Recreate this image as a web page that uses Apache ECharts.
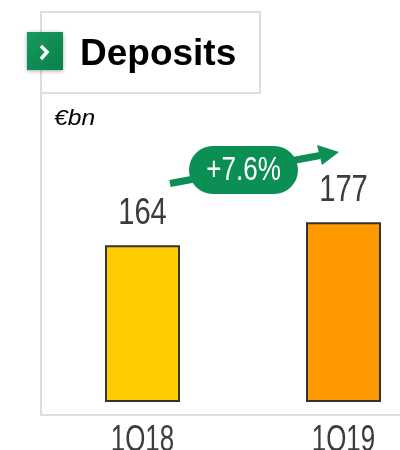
<!DOCTYPE html>
<html>
<head>
<meta charset="utf-8">
<style>
  html, body { margin: 0; padding: 0; background: #fff; }
  #chart { width: 400px; height: 450px; overflow: hidden; }
</style>
<script src="https://cdn.jsdelivr.net/npm/echarts@6/dist/echarts.min.js"></script>
</head>
<body>
<div id="chart"></div>
<script>
const categories = ['1Q18', '1Q19'];
const deposits = [164, 177];
const barColors = ['#ffcc00', '#ff9900'];
const titleText = 'Deposits';
const unitText = '€bn';
const growthText = '+7.6%';

const GREEN = '#0b8f55';
const FRAME = '#dedede';
const AXIS_MIN = 76;
const sans = '"Liberation Sans", Arial, sans-serif';

const myChart = echarts.init(document.getElementById('chart'), null, { renderer: 'canvas' });

// 没有窄体字，用 scaleX 压窄文字
const narrowText = (text, x, y, scaleX) => ({
  type: 'text',
  x: x,
  y: y,
  scaleX: scaleX,
  style: { text: text, fontFamily: sans, fontSize: 36, fill: '#3c3c3c', align: 'center', verticalAlign: 'middle' }
});

const option = {
  animation: false,
  backgroundColor: '#fff',
  // 坐标轴从 76 起，柱高比例与原图一致
  grid: { left: 42, top: 79, width: 402, height: 322, outerBoundsMode: 'none' },
  xAxis: {
    type: 'category',
    data: categories,
    axisLine: { show: false },
    axisTick: { show: false },
    axisLabel: { show: false }
  },
  yAxis: { type: 'value', min: AXIS_MIN, max: 258, show: false, splitLine: { show: false } },
  series: [
    {
      type: 'bar',
      barWidth: 75,
      data: deposits.map((v, i) => ({ value: v, itemStyle: { color: barColors[i] } })),
      itemStyle: { borderColor: '#333', borderWidth: 2 }
    },
    {
      // 数值标签和类目标签
      type: 'custom',
      clip: false,
      z: 10,
      data: deposits.map((v, i) => [i, v]),
      renderItem: (params, api) => {
        const i = api.value(0);
        const v = api.value(1);
        const top = api.coord([i, v]);
        const bottom = api.coord([i, AXIS_MIN]);
        return {
          type: 'group',
          children: [
            narrowText(String(v), top[0], top[1] - 31, 0.81),
            narrowText(categories[i], bottom[0], bottom[1] + 40, 0.72)
          ]
        };
      }
    }
  ],
  graphic: [
    // 外框
    { type: 'polyline', z: 1, shape: { points: [[41, 93], [41, 415], [400, 415]] }, style: { stroke: FRAME, lineWidth: 2, fill: null } },
    { type: 'rect', z: 1, shape: { x: 41, y: 12, width: 219, height: 81 }, style: { stroke: FRAME, lineWidth: 2, fill: '#fff' } },
    // 绿色图标
    { type: 'rect', z: 5, shape: { x: 27, y: 32, width: 36, height: 38 },
      style: {
        fill: new echarts.graphic.LinearGradient(0, 0, 1, 1, [
          { offset: 0, color: '#17995e' }, { offset: 1, color: '#0a8048' }
        ]),
        shadowBlur: 4, shadowColor: 'rgba(0,0,0,0.35)', shadowOffsetY: 1
      } },
    { type: 'polyline', z: 6, shape: { points: [[41, 46], [47, 52], [41, 59]] }, style: { stroke: '#fff', lineWidth: 3.5, fill: null } },
    { type: 'text', z: 6, style: { x: 80, y: 55, text: titleText, fontFamily: sans, fontWeight: 'bold', fontSize: 37, fill: '#000', verticalAlign: 'middle' } },
    { type: 'text', z: 6, x: 54, y: 119, scaleX: 1.12, style: { text: unitText, fontFamily: sans, fontStyle: 'italic', fontSize: 22, fill: '#000', verticalAlign: 'middle' } },
    // 增长箭头
    { type: 'line', z: 7, shape: { x1: 170, y1: 183.5, x2: 320, y2: 155.5 }, style: { stroke: GREEN, lineWidth: 7 } },
    { type: 'polygon', z: 7, shape: { points: [[317, 145], [339, 152], [322, 165]] }, style: { fill: GREEN } },
    { type: 'rect', z: 8, shape: { x: 189, y: 146, width: 109, height: 48, r: 24 }, style: { fill: GREEN } },
    { type: 'text', z: 9, x: 243.5, y: 171, scaleX: 0.79, style: { text: growthText, fontFamily: sans, fontSize: 33, fill: '#fff', align: 'center', verticalAlign: 'middle' } }
  ]
};

option && myChart.setOption(option);
</script>
</body>
</html>
